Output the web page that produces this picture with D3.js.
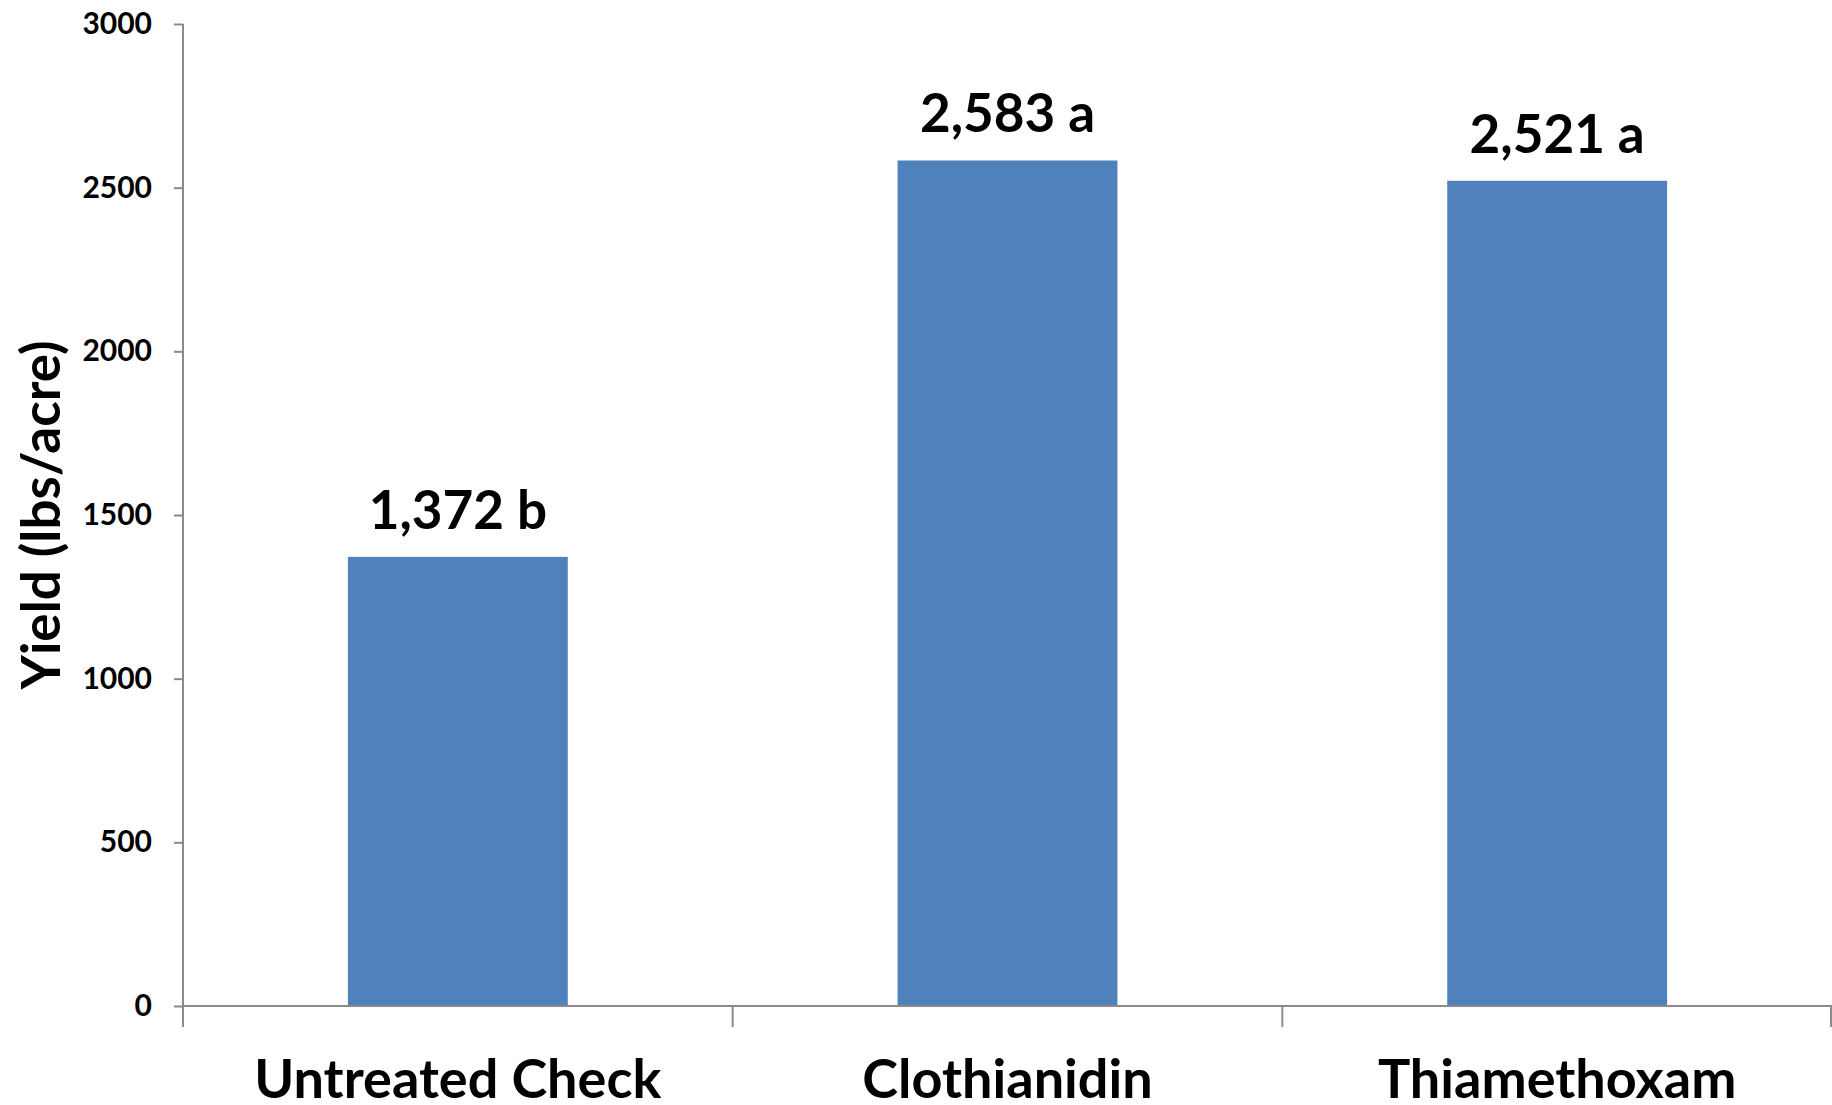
<!DOCTYPE html>
<html>
<head>
<meta charset="utf-8">
<script src="https://cdn.jsdelivr.net/npm/d3@7"></script>
<style>
  html, body { margin: 0; padding: 0; background: #fff; }
  svg { display: block; }
  text { font-family: Lato, "Open Sans", sans-serif; font-weight: 700; fill: #000; }
</style>
</head>
<body>
<svg id="chart" width="1832" height="1105"></svg>
<script>
// Seed yield by treatment, with mean-separation letters
const categories = ["Untreated Check", "Clothianidin", "Thiamethoxam"];
const yieldValues = [1372, 2583, 2521];
const groupLetters = ["b", "a", "a"];
const yTicks = [0, 500, 1000, 1500, 2000, 2500, 3000];
const yTitle = "Yield (lbs/acre)";

const W = 1832, H = 1105;
const margin = { top: 24, right: 0, bottom: 99, left: 183 };
const svg = d3.select("#chart");

const x = d3.scaleBand()
  .domain(categories)
  .range([margin.left, W - margin.right])
  .paddingInner(0)
  .paddingOuter(0);

const y = d3.scaleLinear()
  .domain([0, 3000])
  .range([H - margin.bottom, margin.top]);

const axisColor = "#8a8a8a";
const barColor = "#4f81bd";
const barFrac = 0.4;

// Y axis
const yAxis = svg.append("g")
  .attr("transform", `translate(${margin.left},0)`)
  .call(d3.axisLeft(y).tickValues(yTicks).tickFormat(d3.format("d")).tickSize(9).tickPadding(22));
yAxis.select(".domain").attr("stroke", axisColor).attr("stroke-width", 2)
  .attr("d", `M0,${y(3000)}V${y(0) + 21}`);
yAxis.selectAll(".tick line").attr("stroke", axisColor).attr("stroke-width", 2);
yAxis.selectAll(".tick text")
  .attr("font-size", 30)
  .attr("font-family", "Lato, sans-serif")
  .attr("font-weight", 700)
  .attr("fill", "#111");

// Bars
svg.append("g").selectAll("rect")
  .data(categories)
  .join("rect")
  .attr("x", (c) => x(c) + x.bandwidth() * (1 - barFrac) / 2)
  .attr("width", x.bandwidth() * barFrac)
  .attr("y", (c, i) => y(yieldValues[i]))
  .attr("height", (c, i) => y(0) - y(yieldValues[i]))
  .attr("fill", barColor);

// X axis baseline and category separator ticks
const xg = svg.append("g");
xg.append("line")
  .attr("x1", margin.left).attr("x2", W - margin.right)
  .attr("y1", y(0)).attr("y2", y(0))
  .attr("stroke", axisColor).attr("stroke-width", 2);
const boundaries = categories.map((c) => x(c)).concat([x(categories[categories.length - 1]) + x.bandwidth()]);
xg.selectAll("line.sep")
  .data(boundaries.slice(1))
  .join("line")
  .attr("class", "sep")
  .attr("x1", (d) => Math.min(d, W - 1)).attr("x2", (d) => Math.min(d, W - 1))
  .attr("y1", y(0)).attr("y2", y(0) + 21)
  .attr("stroke", axisColor).attr("stroke-width", 2);

// Category labels
xg.selectAll("text.cat")
  .data(categories)
  .join("text")
  .attr("class", "cat")
  .attr("x", (c) => x(c) + x.bandwidth() / 2)
  .attr("y", y(0) + 92)
  .attr("text-anchor", "middle")
  .attr("font-size", 54)
  .text((c) => c);

// Value labels above bars
const fmt = d3.format(",");
svg.append("g").selectAll("text")
  .data(categories)
  .join("text")
  .attr("x", (c) => x(c) + x.bandwidth() / 2)
  .attr("y", (c, i) => y(yieldValues[i]) - 28)
  .attr("text-anchor", "middle")
  .attr("font-size", 53)
  .text((c, i) => `${fmt(yieldValues[i])} ${groupLetters[i]}`);

// Y axis title
svg.append("text")
  .attr("transform", `translate(60,${(y(0) + y(3000)) / 2}) rotate(-90)`)
  .attr("text-anchor", "middle")
  .attr("font-size", 53)
  .text(yTitle);
</script>
</body>
</html>
